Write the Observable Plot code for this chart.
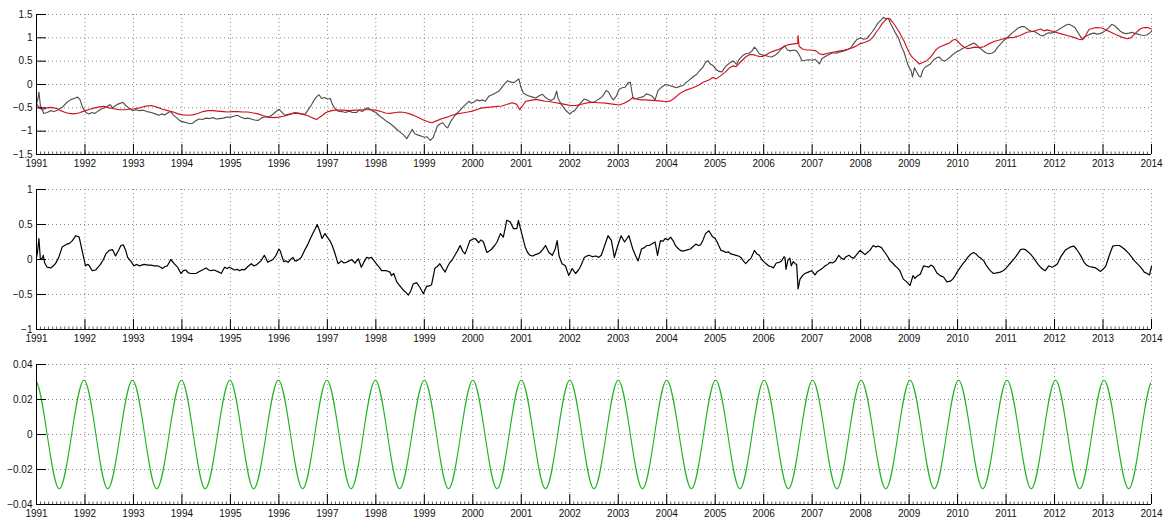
<!DOCTYPE html>
<html><head><meta charset="utf-8">
<script src="https://cdn.jsdelivr.net/npm/d3@7"></script>
<script src="https://cdn.jsdelivr.net/npm/@observablehq/plot@0.6"></script>
<style>body{margin:0;background:#fff;} #chart svg{display:block;}</style>
</head><body><div id="chart"></div>
<script>
const yearTicks = [1991,1992,1993,1994,1995,1996,1997,1998,1999,2000,2001,2002,2003,2004,2005,2006,2007,2008,2009,2010,2011,2012,2013,2014];
const minorTicks = d3.range(1991, 2014.001, 1 / 12);
const yTicks1 = [-1.5,-1,-0.5,0,0.5,1,1.5];
const yTicks2 = [-1,-0.5,0,0.5,1];
const yTicks3 = [-0.04,-0.02,0,0.02,0.04];

// Panel 1, grey series [year, value]
const grayPts = [[1991.0,-0.42],[1991.03,-0.3],[1991.05,-0.16],[1991.08,-0.45],[1991.15,-0.62],[1991.22,-0.6],[1991.29,-0.56],[1991.36,-0.58],[1991.43,-0.55],[1991.53,-0.49],[1991.63,-0.38],[1991.7,-0.33],[1991.77,-0.3],[1991.85,-0.27],[1991.9,-0.33],[1991.95,-0.49],[1992.02,-0.6],[1992.08,-0.63],[1992.15,-0.6],[1992.2,-0.62],[1992.27,-0.57],[1992.33,-0.53],[1992.4,-0.5],[1992.47,-0.46],[1992.52,-0.43],[1992.57,-0.5],[1992.62,-0.46],[1992.68,-0.42],[1992.74,-0.4],[1992.78,-0.38],[1992.84,-0.45],[1992.9,-0.5],[1992.98,-0.56],[1993.05,-0.54],[1993.12,-0.56],[1993.2,-0.55],[1993.28,-0.58],[1993.37,-0.6],[1993.45,-0.63],[1993.52,-0.66],[1993.58,-0.63],[1993.65,-0.65],[1993.72,-0.6],[1993.77,-0.58],[1993.82,-0.65],[1993.9,-0.72],[1993.96,-0.78],[1994.03,-0.8],[1994.1,-0.82],[1994.17,-0.84],[1994.22,-0.83],[1994.28,-0.78],[1994.35,-0.74],[1994.42,-0.75],[1994.5,-0.72],[1994.57,-0.73],[1994.64,-0.71],[1994.71,-0.74],[1994.78,-0.73],[1994.85,-0.72],[1994.92,-0.7],[1995.0,-0.7],[1995.07,-0.68],[1995.14,-0.66],[1995.22,-0.7],[1995.29,-0.73],[1995.36,-0.72],[1995.43,-0.74],[1995.5,-0.76],[1995.57,-0.77],[1995.64,-0.72],[1995.71,-0.69],[1995.78,-0.7],[1995.85,-0.66],[1995.92,-0.6],[1996.0,-0.53],[1996.05,-0.58],[1996.12,-0.66],[1996.19,-0.64],[1996.26,-0.62],[1996.33,-0.6],[1996.4,-0.61],[1996.47,-0.63],[1996.54,-0.64],[1996.6,-0.55],[1996.67,-0.44],[1996.73,-0.33],[1996.78,-0.26],[1996.83,-0.22],[1996.88,-0.3],[1996.94,-0.28],[1997.0,-0.31],[1997.06,-0.3],[1997.1,-0.42],[1997.16,-0.52],[1997.22,-0.57],[1997.3,-0.58],[1997.37,-0.6],[1997.45,-0.57],[1997.52,-0.6],[1997.6,-0.6],[1997.66,-0.55],[1997.72,-0.58],[1997.78,-0.52],[1997.84,-0.5],[1997.92,-0.56],[1998.0,-0.6],[1998.08,-0.68],[1998.15,-0.73],[1998.22,-0.79],[1998.3,-0.84],[1998.37,-0.9],[1998.44,-0.97],[1998.5,-1.02],[1998.57,-1.08],[1998.64,-1.16],[1998.7,-1.05],[1998.75,-0.96],[1998.8,-1.05],[1998.86,-1.08],[1998.92,-1.1],[1999.0,-1.13],[1999.06,-1.12],[1999.12,-1.2],[1999.18,-1.14],[1999.23,-1.0],[1999.27,-0.89],[1999.33,-0.84],[1999.38,-0.82],[1999.44,-0.9],[1999.48,-0.93],[1999.55,-0.78],[1999.62,-0.68],[1999.68,-0.61],[1999.74,-0.55],[1999.8,-0.48],[1999.86,-0.42],[1999.92,-0.36],[1999.97,-0.4],[2000.02,-0.38],[2000.08,-0.33],[2000.14,-0.35],[2000.2,-0.33],[2000.26,-0.36],[2000.33,-0.25],[2000.4,-0.22],[2000.47,-0.18],[2000.54,-0.14],[2000.6,-0.06],[2000.66,0.02],[2000.72,0.08],[2000.78,0.05],[2000.85,0.04],[2000.9,0.08],[2000.95,0.12],[2000.99,-0.05],[2001.04,-0.18],[2001.1,-0.22],[2001.17,-0.25],[2001.24,-0.27],[2001.3,-0.29],[2001.37,-0.24],[2001.44,-0.21],[2001.5,-0.28],[2001.56,-0.32],[2001.62,-0.34],[2001.68,-0.3],[2001.73,-0.14],[2001.76,-0.3],[2001.82,-0.42],[2001.88,-0.5],[2001.94,-0.58],[2002.0,-0.63],[2002.06,-0.58],[2002.1,-0.56],[2002.16,-0.48],[2002.22,-0.4],[2002.3,-0.31],[2002.37,-0.34],[2002.44,-0.38],[2002.5,-0.38],[2002.56,-0.34],[2002.62,-0.3],[2002.68,-0.25],[2002.75,-0.13],[2002.8,-0.16],[2002.86,-0.28],[2002.9,-0.33],[2002.96,-0.25],[2003.02,-0.1],[2003.08,-0.07],[2003.14,-0.06],[2003.2,0.03],[2003.25,0.05],[2003.28,-0.15],[2003.31,-0.31],[2003.38,-0.3],[2003.45,-0.28],[2003.52,-0.26],[2003.58,-0.2],[2003.64,-0.22],[2003.7,-0.25],[2003.76,-0.33],[2003.82,-0.13],[2003.9,-0.05],[2003.98,0.0],[2004.05,-0.02],[2004.12,-0.04],[2004.2,-0.07],[2004.27,-0.04],[2004.34,-0.02],[2004.4,0.04],[2004.47,0.1],[2004.54,0.16],[2004.62,0.22],[2004.68,0.3],[2004.74,0.36],[2004.8,0.47],[2004.85,0.51],[2004.9,0.44],[2004.96,0.4],[2005.02,0.32],[2005.08,0.28],[2005.14,0.27],[2005.2,0.37],[2005.26,0.43],[2005.32,0.48],[2005.38,0.5],[2005.44,0.43],[2005.5,0.55],[2005.57,0.62],[2005.63,0.66],[2005.7,0.67],[2005.76,0.72],[2005.81,0.8],[2005.86,0.74],[2005.91,0.66],[2005.97,0.63],[2006.04,0.62],[2006.1,0.6],[2006.17,0.59],[2006.24,0.63],[2006.3,0.68],[2006.36,0.76],[2006.43,0.83],[2006.49,0.74],[2006.55,0.72],[2006.62,0.74],[2006.68,0.72],[2006.74,0.62],[2006.79,0.51],[2006.86,0.52],[2006.93,0.53],[2007.0,0.52],[2007.06,0.54],[2007.1,0.5],[2007.15,0.44],[2007.2,0.55],[2007.27,0.6],[2007.34,0.64],[2007.42,0.68],[2007.5,0.67],[2007.58,0.7],[2007.66,0.72],[2007.74,0.75],[2007.8,0.79],[2007.86,0.88],[2007.92,0.96],[2008.0,1.0],[2008.06,0.97],[2008.12,0.98],[2008.18,1.05],[2008.24,1.13],[2008.3,1.22],[2008.36,1.32],[2008.42,1.38],[2008.47,1.44],[2008.52,1.41],[2008.57,1.42],[2008.62,1.3],[2008.67,1.2],[2008.72,1.1],[2008.78,1.0],[2008.84,0.82],[2008.9,0.68],[2008.95,0.5],[2009.0,0.36],[2009.04,0.3],[2009.07,0.16],[2009.11,0.36],[2009.15,0.28],[2009.2,0.18],[2009.24,0.16],[2009.28,0.3],[2009.33,0.37],[2009.38,0.4],[2009.44,0.44],[2009.5,0.52],[2009.56,0.57],[2009.62,0.59],[2009.68,0.52],[2009.74,0.5],[2009.8,0.55],[2009.86,0.6],[2009.92,0.66],[2009.98,0.7],[2010.04,0.73],[2010.1,0.77],[2010.16,0.8],[2010.22,0.83],[2010.28,0.86],[2010.34,0.89],[2010.4,0.84],[2010.46,0.78],[2010.52,0.73],[2010.58,0.68],[2010.64,0.66],[2010.7,0.67],[2010.76,0.7],[2010.82,0.79],[2010.88,0.86],[2010.94,0.93],[2011.0,0.98],[2011.06,1.04],[2011.12,1.1],[2011.18,1.15],[2011.25,1.21],[2011.32,1.24],[2011.38,1.24],[2011.45,1.18],[2011.52,1.14],[2011.58,1.14],[2011.64,1.1],[2011.7,1.06],[2011.76,1.04],[2011.82,1.08],[2011.88,1.11],[2011.94,1.1],[2012.0,1.12],[2012.06,1.16],[2012.12,1.2],[2012.18,1.24],[2012.25,1.28],[2012.3,1.29],[2012.36,1.26],[2012.42,1.22],[2012.48,1.12],[2012.54,1.02],[2012.58,0.98],[2012.64,1.03],[2012.7,1.06],[2012.76,1.09],[2012.82,1.1],[2012.88,1.08],[2012.94,1.09],[2013.0,1.12],[2013.06,1.16],[2013.12,1.22],[2013.18,1.29],[2013.24,1.26],[2013.3,1.2],[2013.36,1.14],[2013.42,1.1],[2013.48,1.09],[2013.54,1.1],[2013.6,1.12],[2013.66,1.09],[2013.72,1.08],[2013.78,1.06],[2013.84,1.05],[2013.9,1.06],[2013.96,1.1],[2014.0,1.14]];

// Panel 1, red series [year, value]
const redPts = [[1991.0,-0.42],[1991.08,-0.52],[1991.15,-0.53],[1991.22,-0.5],[1991.29,-0.49],[1991.36,-0.5],[1991.43,-0.52],[1991.5,-0.56],[1991.57,-0.59],[1991.67,-0.62],[1991.77,-0.63],[1991.87,-0.61],[1991.98,-0.57],[1992.1,-0.53],[1992.2,-0.5],[1992.3,-0.48],[1992.4,-0.47],[1992.5,-0.5],[1992.6,-0.52],[1992.7,-0.54],[1992.81,-0.54],[1992.92,-0.53],[1993.02,-0.52],[1993.12,-0.5],[1993.23,-0.47],[1993.37,-0.45],[1993.5,-0.49],[1993.6,-0.53],[1993.71,-0.56],[1993.82,-0.59],[1993.92,-0.63],[1994.02,-0.65],[1994.12,-0.66],[1994.22,-0.65],[1994.33,-0.62],[1994.43,-0.58],[1994.54,-0.56],[1994.64,-0.56],[1994.74,-0.57],[1994.85,-0.58],[1994.95,-0.59],[1995.05,-0.58],[1995.15,-0.58],[1995.26,-0.59],[1995.36,-0.59],[1995.47,-0.61],[1995.57,-0.63],[1995.68,-0.67],[1995.78,-0.7],[1995.88,-0.71],[1995.99,-0.7],[1996.1,-0.68],[1996.19,-0.65],[1996.3,-0.62],[1996.4,-0.62],[1996.5,-0.64],[1996.6,-0.67],[1996.7,-0.72],[1996.78,-0.75],[1996.84,-0.7],[1996.9,-0.66],[1996.97,-0.6],[1997.05,-0.57],[1997.15,-0.55],[1997.3,-0.55],[1997.45,-0.56],[1997.6,-0.55],[1997.75,-0.54],[1997.9,-0.54],[1998.0,-0.55],[1998.1,-0.58],[1998.2,-0.61],[1998.3,-0.62],[1998.4,-0.6],[1998.5,-0.59],[1998.6,-0.6],[1998.7,-0.63],[1998.8,-0.67],[1998.9,-0.72],[1998.98,-0.76],[1999.08,-0.8],[1999.16,-0.82],[1999.25,-0.78],[1999.37,-0.73],[1999.47,-0.7],[1999.57,-0.66],[1999.68,-0.63],[1999.78,-0.61],[1999.9,-0.59],[1999.99,-0.57],[2000.1,-0.53],[2000.19,-0.5],[2000.3,-0.49],[2000.4,-0.48],[2000.5,-0.47],[2000.6,-0.46],[2000.7,-0.43],[2000.81,-0.39],[2000.9,-0.42],[2000.97,-0.54],[2001.03,-0.45],[2001.09,-0.36],[2001.2,-0.34],[2001.3,-0.32],[2001.4,-0.34],[2001.5,-0.36],[2001.6,-0.37],[2001.71,-0.39],[2001.82,-0.41],[2001.92,-0.43],[2002.02,-0.45],[2002.12,-0.45],[2002.22,-0.43],[2002.33,-0.4],[2002.45,-0.38],[2002.6,-0.39],[2002.74,-0.4],[2002.88,-0.42],[2003.02,-0.44],[2003.12,-0.4],[2003.23,-0.34],[2003.3,-0.28],[2003.37,-0.31],[2003.47,-0.33],[2003.57,-0.33],[2003.7,-0.34],[2003.85,-0.35],[2003.99,-0.37],[2004.08,-0.35],[2004.15,-0.3],[2004.26,-0.2],[2004.4,-0.12],[2004.54,-0.07],[2004.65,-0.02],[2004.75,0.05],[2004.88,0.1],[2004.95,0.15],[2005.02,0.12],[2005.1,0.18],[2005.2,0.26],[2005.3,0.36],[2005.37,0.4],[2005.43,0.38],[2005.5,0.46],[2005.57,0.53],[2005.64,0.6],[2005.71,0.64],[2005.78,0.64],[2005.84,0.62],[2005.91,0.6],[2005.98,0.6],[2006.05,0.64],[2006.12,0.68],[2006.22,0.72],[2006.33,0.76],[2006.4,0.8],[2006.47,0.84],[2006.55,0.86],[2006.63,0.87],[2006.7,0.88],[2006.71,1.05],[2006.73,0.82],[2006.8,0.76],[2006.88,0.74],[2006.98,0.74],[2007.08,0.72],[2007.15,0.66],[2007.22,0.64],[2007.32,0.67],[2007.43,0.69],[2007.53,0.71],[2007.63,0.73],[2007.74,0.76],[2007.84,0.79],[2007.92,0.83],[2007.98,0.87],[2008.08,0.9],[2008.19,0.95],[2008.26,1.02],[2008.32,1.12],[2008.38,1.2],[2008.44,1.3],[2008.5,1.37],[2008.56,1.42],[2008.6,1.41],[2008.65,1.35],[2008.7,1.28],[2008.75,1.2],[2008.8,1.12],[2008.85,1.02],[2008.9,0.92],[2008.95,0.8],[2009.0,0.69],[2009.05,0.6],[2009.1,0.55],[2009.16,0.49],[2009.21,0.44],[2009.28,0.47],[2009.35,0.5],[2009.42,0.56],[2009.49,0.65],[2009.55,0.74],[2009.62,0.8],[2009.69,0.83],[2009.76,0.86],[2009.83,0.89],[2009.9,0.95],[2009.95,0.97],[2010.0,0.93],[2010.07,0.85],[2010.14,0.8],[2010.2,0.77],[2010.27,0.78],[2010.35,0.8],[2010.45,0.79],[2010.54,0.81],[2010.64,0.87],[2010.75,0.92],[2010.88,0.96],[2011.02,1.0],[2011.16,1.01],[2011.29,1.05],[2011.43,1.12],[2011.57,1.14],[2011.71,1.19],[2011.78,1.15],[2011.85,1.17],[2011.99,1.13],[2012.12,1.09],[2012.26,1.05],[2012.4,1.01],[2012.5,0.97],[2012.58,0.96],[2012.64,1.05],[2012.71,1.18],[2012.85,1.22],[2012.98,1.21],[2013.12,1.14],[2013.26,1.07],[2013.4,1.01],[2013.5,0.98],[2013.57,1.0],[2013.64,1.07],[2013.71,1.14],[2013.78,1.2],[2013.85,1.22],[2013.92,1.22],[2014.0,1.19]];

// Panel 2, black series [year, value]
const blackPts = [[1991.0,0.03],[1991.02,0.1],[1991.05,0.3],[1991.08,0.0],[1991.12,0.02],[1991.14,0.06],[1991.17,-0.05],[1991.22,-0.11],[1991.29,-0.12],[1991.35,-0.09],[1991.39,-0.06],[1991.46,0.03],[1991.53,0.18],[1991.58,0.2],[1991.63,0.22],[1991.68,0.23],[1991.74,0.27],[1991.81,0.34],[1991.88,0.32],[1991.94,0.13],[1992.01,-0.09],[1992.05,-0.07],[1992.08,-0.08],[1992.15,-0.16],[1992.22,-0.15],[1992.27,-0.11],[1992.32,-0.07],[1992.38,0.0],[1992.43,0.08],[1992.5,0.13],[1992.57,0.14],[1992.63,0.05],[1992.7,0.14],[1992.74,0.2],[1992.79,0.21],[1992.84,0.13],[1992.88,0.03],[1992.94,-0.02],[1993.01,-0.09],[1993.06,-0.07],[1993.12,-0.09],[1993.22,-0.07],[1993.3,-0.08],[1993.36,-0.08],[1993.43,-0.09],[1993.5,-0.09],[1993.56,-0.11],[1993.6,-0.13],[1993.65,-0.1],[1993.7,-0.09],[1993.77,0.0],[1993.84,-0.06],[1993.91,-0.11],[1993.98,-0.2],[1994.03,-0.16],[1994.08,-0.15],[1994.13,-0.19],[1994.19,-0.2],[1994.24,-0.2],[1994.29,-0.2],[1994.34,-0.18],[1994.39,-0.16],[1994.45,-0.14],[1994.5,-0.12],[1994.55,-0.15],[1994.6,-0.16],[1994.65,-0.15],[1994.7,-0.16],[1994.76,-0.18],[1994.81,-0.2],[1994.88,-0.11],[1994.93,-0.13],[1994.98,-0.11],[1995.03,-0.13],[1995.08,-0.15],[1995.14,-0.14],[1995.19,-0.16],[1995.24,-0.14],[1995.29,-0.15],[1995.36,-0.1],[1995.43,-0.06],[1995.48,-0.09],[1995.53,-0.08],[1995.58,-0.05],[1995.63,-0.02],[1995.7,0.06],[1995.73,0.02],[1995.77,-0.04],[1995.82,-0.02],[1995.88,0.0],[1995.94,0.06],[1996.0,0.15],[1996.03,0.12],[1996.06,0.05],[1996.1,-0.03],[1996.15,-0.02],[1996.19,-0.04],[1996.24,0.0],[1996.29,0.03],[1996.33,-0.02],[1996.36,-0.02],[1996.41,0.0],[1996.46,0.03],[1996.53,0.13],[1996.6,0.22],[1996.65,0.3],[1996.7,0.37],[1996.75,0.44],[1996.79,0.5],[1996.84,0.41],[1996.89,0.3],[1996.95,0.37],[1997.0,0.32],[1997.05,0.27],[1997.1,0.2],[1997.15,0.1],[1997.22,-0.06],[1997.29,-0.02],[1997.34,-0.05],[1997.39,-0.04],[1997.45,-0.02],[1997.5,0.0],[1997.57,-0.05],[1997.64,0.01],[1997.7,-0.11],[1997.76,-0.03],[1997.81,0.03],[1997.86,0.02],[1997.91,0.03],[1998.02,-0.07],[1998.08,-0.12],[1998.12,-0.16],[1998.22,-0.16],[1998.29,-0.18],[1998.32,-0.23],[1998.37,-0.2],[1998.43,-0.32],[1998.5,-0.38],[1998.57,-0.44],[1998.62,-0.47],[1998.67,-0.51],[1998.72,-0.45],[1998.77,-0.35],[1998.84,-0.33],[1998.91,-0.4],[1998.98,-0.49],[1999.05,-0.38],[1999.1,-0.38],[1999.15,-0.36],[1999.22,-0.12],[1999.27,-0.1],[1999.32,-0.06],[1999.38,-0.13],[1999.43,-0.18],[1999.48,-0.1],[1999.53,-0.04],[1999.58,0.0],[1999.63,0.06],[1999.68,0.12],[1999.74,0.2],[1999.79,0.12],[1999.84,0.08],[1999.89,0.17],[1999.94,0.27],[2000.0,0.29],[2000.05,0.3],[2000.12,0.24],[2000.17,0.28],[2000.22,0.25],[2000.29,0.1],[2000.34,0.12],[2000.39,0.15],[2000.45,0.2],[2000.5,0.25],[2000.57,0.37],[2000.63,0.32],[2000.7,0.56],[2000.77,0.54],[2000.84,0.44],[2000.91,0.44],[2000.94,0.56],[2001.01,0.37],[2001.08,0.18],[2001.13,0.1],[2001.18,0.06],[2001.24,0.05],[2001.29,0.07],[2001.34,0.08],[2001.39,0.1],[2001.44,0.14],[2001.5,0.2],[2001.57,0.1],[2001.64,0.06],[2001.7,0.15],[2001.74,0.27],[2001.78,0.05],[2001.84,-0.06],[2001.91,-0.09],[2001.98,-0.23],[2002.05,-0.13],[2002.12,-0.2],[2002.18,-0.15],[2002.23,-0.09],[2002.3,0.03],[2002.35,0.05],[2002.4,0.06],[2002.47,0.04],[2002.54,0.05],[2002.6,0.03],[2002.65,0.06],[2002.72,0.2],[2002.79,0.34],[2002.86,0.27],[2002.92,0.03],[2002.99,0.2],[2003.06,0.34],[2003.13,0.25],[2003.18,0.3],[2003.22,0.34],[2003.3,0.15],[2003.36,0.05],[2003.41,-0.02],[2003.48,0.15],[2003.54,0.17],[2003.59,0.2],[2003.64,0.2],[2003.69,0.22],[2003.76,0.25],[2003.81,0.06],[2003.87,0.27],[2003.92,0.26],[2003.97,0.3],[2004.03,0.28],[2004.08,0.32],[2004.13,0.27],[2004.18,0.2],[2004.23,0.16],[2004.28,0.13],[2004.33,0.12],[2004.39,0.13],[2004.44,0.14],[2004.49,0.15],[2004.55,0.19],[2004.6,0.22],[2004.65,0.2],[2004.7,0.21],[2004.75,0.28],[2004.8,0.37],[2004.87,0.41],[2004.94,0.33],[2005.0,0.3],[2005.04,0.25],[2005.12,0.13],[2005.17,0.12],[2005.22,0.1],[2005.27,0.11],[2005.32,0.08],[2005.38,0.07],[2005.43,0.06],[2005.48,0.05],[2005.53,0.03],[2005.58,-0.02],[2005.63,-0.06],[2005.68,-0.02],[2005.74,0.02],[2005.81,0.13],[2005.86,0.08],[2005.91,0.06],[2005.96,0.0],[2006.0,-0.03],[2006.05,-0.06],[2006.1,-0.09],[2006.15,-0.1],[2006.2,-0.12],[2006.26,-0.05],[2006.32,-0.04],[2006.37,-0.02],[2006.42,0.04],[2006.44,0.03],[2006.46,-0.14],[2006.5,-0.01],[2006.54,0.02],[2006.57,-0.09],[2006.61,-0.03],[2006.65,-0.06],[2006.68,-0.07],[2006.71,-0.42],[2006.75,-0.28],[2006.8,-0.23],[2006.85,-0.2],[2006.92,-0.18],[2006.99,-0.16],[2007.06,-0.22],[2007.11,-0.17],[2007.16,-0.15],[2007.22,-0.12],[2007.27,-0.09],[2007.32,-0.07],[2007.37,-0.04],[2007.42,-0.05],[2007.48,-0.02],[2007.55,0.06],[2007.6,0.02],[2007.65,0.0],[2007.7,0.04],[2007.76,0.06],[2007.81,0.03],[2007.86,0.02],[2007.93,0.08],[2007.99,0.13],[2008.04,0.1],[2008.09,0.07],[2008.14,0.1],[2008.19,0.13],[2008.26,0.2],[2008.31,0.18],[2008.37,0.19],[2008.43,0.17],[2008.5,0.1],[2008.55,0.05],[2008.61,-0.02],[2008.66,-0.05],[2008.71,-0.09],[2008.76,-0.12],[2008.81,-0.16],[2008.88,-0.28],[2008.95,-0.32],[2009.02,-0.37],[2009.08,-0.23],[2009.12,-0.27],[2009.16,-0.24],[2009.23,-0.21],[2009.3,-0.09],[2009.35,-0.1],[2009.4,-0.11],[2009.45,-0.08],[2009.5,-0.1],[2009.57,-0.19],[2009.64,-0.23],[2009.71,-0.25],[2009.78,-0.32],[2009.85,-0.31],[2009.9,-0.28],[2009.95,-0.23],[2010.0,-0.17],[2010.06,-0.11],[2010.11,-0.06],[2010.16,-0.02],[2010.21,0.03],[2010.26,0.07],[2010.33,0.1],[2010.38,0.08],[2010.43,0.04],[2010.48,0.02],[2010.54,-0.02],[2010.59,-0.08],[2010.64,-0.13],[2010.69,-0.17],[2010.74,-0.2],[2010.81,-0.19],[2010.88,-0.18],[2010.94,-0.16],[2010.99,-0.13],[2011.04,-0.09],[2011.09,-0.05],[2011.14,-0.01],[2011.19,0.03],[2011.25,0.09],[2011.3,0.14],[2011.35,0.15],[2011.4,0.14],[2011.45,0.11],[2011.5,0.08],[2011.56,0.03],[2011.61,-0.02],[2011.66,-0.07],[2011.71,-0.11],[2011.76,-0.14],[2011.81,-0.16],[2011.88,-0.09],[2011.95,-0.11],[2012.01,-0.09],[2012.06,-0.06],[2012.12,0.03],[2012.18,0.09],[2012.23,0.14],[2012.33,0.18],[2012.4,0.19],[2012.45,0.15],[2012.5,0.1],[2012.56,0.03],[2012.61,-0.04],[2012.66,-0.08],[2012.71,-0.1],[2012.78,-0.11],[2012.85,-0.12],[2012.95,-0.17],[2013.0,-0.14],[2013.06,-0.09],[2013.13,0.06],[2013.2,0.19],[2013.27,0.2],[2013.34,0.2],[2013.44,0.15],[2013.54,0.08],[2013.65,-0.02],[2013.75,-0.09],[2013.8,-0.13],[2013.85,-0.18],[2013.91,-0.2],[2013.96,-0.22],[2014.0,-0.1]];

// Panel 3, seasonal component: read peaks and troughs [year, value]
const seasonPts = [[1990.47,-0.031],[1990.97,0.031],[1991.47,-0.031],[1991.98,0.031],[1992.47,-0.031],[1992.98,0.031],[1993.48,-0.031],[1993.99,0.031],[1994.48,-0.031],[1994.99,0.031],[1995.48,-0.031],[1995.99,0.031],[1996.49,-0.031],[1996.99,0.031],[1997.49,-0.031],[1997.99,0.031],[1998.49,-0.031],[1999.0,0.031],[1999.5,-0.031],[2000.0,0.031],[2000.5,-0.031],[2001.0,0.031],[2001.5,-0.031],[2002.0,0.031],[2002.5,-0.031],[2003.0,0.031],[2003.5,-0.031],[2004.0,0.031],[2004.51,-0.031],[2005.01,0.031],[2005.51,-0.031],[2006.01,0.031],[2006.51,-0.031],[2007.01,0.031],[2007.51,-0.031],[2008.01,0.031],[2008.52,-0.031],[2009.02,0.031],[2009.52,-0.031],[2010.02,0.031],[2010.52,-0.031],[2011.02,0.031],[2011.52,-0.031],[2012.02,0.031],[2012.52,-0.031],[2013.02,0.031],[2013.53,-0.031],[2014.03,0.031],[2014.53,-0.031]];

const FONT = "'Liberation Sans', Arial, Helvetica, sans-serif";
const fmtY = d => d === 0 ? "0" : (d < 0 ? "\u2212" : "") + String(Math.abs(d));
const PW = 1168 - 36 - 17;

function panel({height, marginBottom, yDomain, yTicks, marks}) {
  const ph = height - 14 - marginBottom;
  return Plot.plot({
    width: 1168, height,
    marginTop: 14, marginBottom, marginLeft: 36, marginRight: 17,
    style: {fontFamily: FONT, fontSize: "10px", color: "#111", background: "#fff", overflow: "visible"},
    x: {domain: [1991, 2014]},
    y: {domain: yDomain},
    marks: [
      Plot.gridX(yearTicks, {stroke: "#888", strokeOpacity: 1, strokeWidth: 1, strokeDasharray: "1,3"}),
      Plot.gridY(yTicks, {stroke: "#888", strokeOpacity: 1, strokeWidth: 1, strokeDasharray: "1,3"}),
      ...marks,
      Plot.tickX(minorTicks, {x: d => d, insetTop: ph - 2.5, stroke: "#333", strokeWidth: 0.8}),
      Plot.tickX(yearTicks, {x: d => d, insetTop: ph - 10, stroke: "#000", strokeWidth: 1}),
      Plot.tickY(yTicks, {y: d => d, insetRight: PW - 10, stroke: "#000", strokeWidth: 1}),
      Plot.ruleX([1991], {stroke: "#000", strokeWidth: 1}),
      Plot.ruleY([yDomain[0]], {stroke: "#000", strokeWidth: 1}),
      Plot.axisX(yearTicks, {tickSize: 0, tickPadding: 5, tickFormat: d => String(d), fontSize: 10}),
      Plot.axisY(yTicks, {tickSize: 0, tickPadding: 4, tickFormat: fmtY, fontSize: 10})
    ]
  });
}

const chart = document.getElementById("chart");
chart.append(panel({
  height: 175, marginBottom: 21, yDomain: [-1.5, 1.5], yTicks: yTicks1,
  marks: [
    Plot.line(grayPts, {x: d => d[0], y: d => d[1], stroke: "#505050", strokeWidth: 1.15}),
    Plot.line(redPts, {x: d => d[0], y: d => d[1], stroke: "#d0121c", strokeWidth: 1.15})
  ]
}));
chart.append(panel({
  height: 175, marginBottom: 21, yDomain: [-1, 1], yTicks: yTicks2,
  marks: [
    Plot.line(blackPts, {x: d => d[0], y: d => d[1], stroke: "#000", strokeWidth: 1.2})
  ]
}));
chart.append(panel({
  height: 171, marginBottom: 17, yDomain: [-0.04, 0.04], yTicks: yTicks3,
  marks: [
    Plot.line(seasonPts, {x: d => d[0], y: d => d[1], curve: "monotone-x", stroke: "#1fb41f", strokeWidth: 1.1, clip: true})
  ]
}));
</script>
</body></html>
